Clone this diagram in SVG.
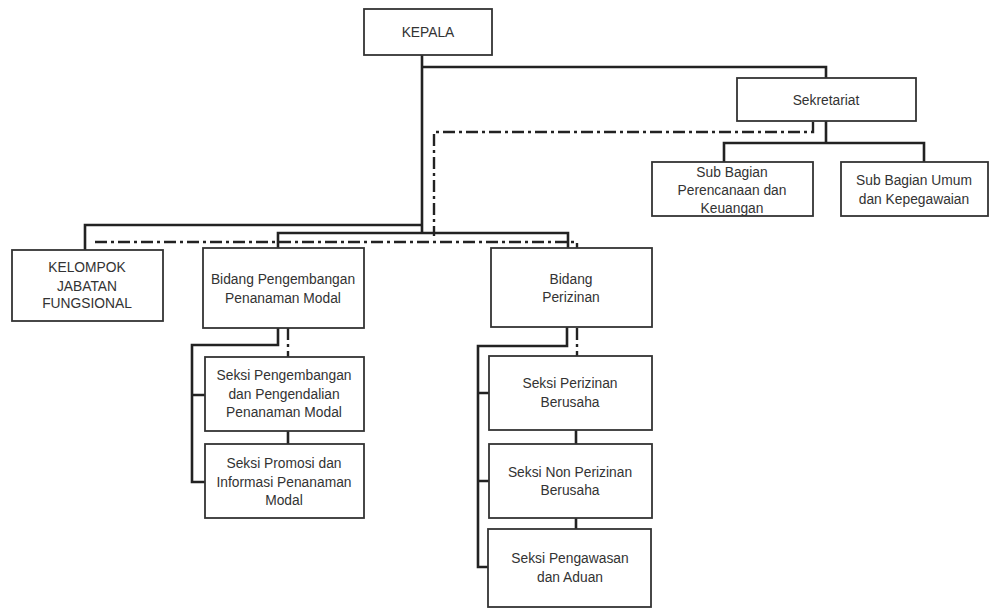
<svg xmlns="http://www.w3.org/2000/svg" width="997" height="612" viewBox="0 0 997 612">
<style>
.box{fill:#fff;stroke:#333;stroke-width:1.8}
.t{font-family:"Liberation Sans",Arial,sans-serif;font-size:13.8px;fill:#333;text-anchor:middle}
.s{fill:none;stroke:#222;stroke-width:2.6}
.d{fill:none;stroke:#222;stroke-width:2.4;stroke-dasharray:12 4 3 4}
</style>
<rect width="997" height="612" fill="#fff"/>
<g id="connectors">
<path class="s" d="M422 55V232M422 67H826V78M826 121V143M724 162V143H924V162"/>
<path class="s" d="M422 225H85V250M278 248V233H568V248"/>
<path class="d" d="M813 122V132H434V236M95 242H577V248"/>
<path class="s" d="M278 327V345H192V482H205M192 395H205M288 431V444"/>
<path class="d" d="M288 328V357"/>
<path class="s" d="M567 327V346H478V567H488M478 393H489M478 481H489M576 430V444M576 518V529"/>
<path class="d" d="M577 328V356"/>
</g>
<g id="kepala"><rect class="box" x="364" y="9" width="128" height="46"/><text class="t" x="428" y="37">KEPALA</text></g>
<g id="sekretariat"><rect class="box" x="737" y="78" width="179" height="43"/><text class="t" x="826" y="105">Sekretariat</text></g>
<g id="subbag-perencanaan"><rect class="box" x="652" y="162" width="161" height="54"/><text class="t" x="732" y="177">Sub Bagian</text><text class="t" x="732" y="195">Perencanaan dan</text><text class="t" x="732" y="213">Keuangan</text></g>
<g id="subbag-umum"><rect class="box" x="841" y="162" width="147" height="54"/><text class="t" x="914" y="185">Sub Bagian Umum</text><text class="t" x="914" y="204">dan Kepegawaian</text></g>
<g id="kelompok"><rect class="box" x="12" y="250" width="151" height="71"/><text class="t" x="87" y="272">KELOMPOK</text><text class="t" x="87" y="291">JABATAN</text><text class="t" x="87" y="308">FUNGSIONAL</text></g>
<g id="bidang-pengembangan"><rect class="box" x="203" y="248" width="161" height="80"/><text class="t" x="283" y="284">Bidang Pengembangan</text><text class="t" x="283" y="303">Penanaman Modal</text></g>
<g id="bidang-perizinan"><rect class="box" x="491" y="248" width="161" height="79"/><text class="t" x="571" y="284">Bidang</text><text class="t" x="571" y="302">Perizinan</text></g>
<g id="seksi-pengembangan"><rect class="box" x="205" y="357" width="159" height="74"/><text class="t" x="284" y="380">Seksi Pengembangan</text><text class="t" x="284" y="399">dan Pengendalian</text><text class="t" x="284" y="417">Penanaman Modal</text></g>
<g id="seksi-promosi"><rect class="box" x="205" y="444" width="159" height="74"/><text class="t" x="284" y="468">Seksi Promosi dan</text><text class="t" x="284" y="487">Informasi Penanaman</text><text class="t" x="284" y="505">Modal</text></g>
<g id="seksi-perizinan"><rect class="box" x="489" y="356" width="163" height="74"/><text class="t" x="570" y="388">Seksi Perizinan</text><text class="t" x="570" y="407">Berusaha</text></g>
<g id="seksi-non-perizinan"><rect class="box" x="489" y="444" width="163" height="74"/><text class="t" x="570" y="477">Seksi Non Perizinan</text><text class="t" x="570" y="495">Berusaha</text></g>
<g id="seksi-pengawasan"><rect class="box" x="488" y="529" width="163" height="78"/><text class="t" x="570" y="563">Seksi Pengawasan</text><text class="t" x="570" y="582">dan Aduan</text></g>
</svg>
